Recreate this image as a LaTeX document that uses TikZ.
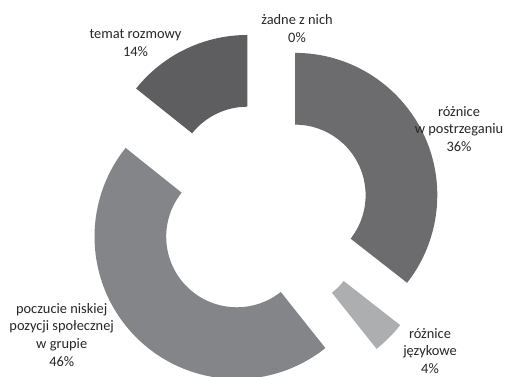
\documentclass[tikz,border=0pt]{standalone}
\usepackage{fontspec}
\setmainfont{Carlito}
\definecolor{cTemat}{HTML}{5E5E60}
\definecolor{cPostrz}{HTML}{6C6C6E}
\definecolor{cPoczucie}{HTML}{848588}
\definecolor{cJezyk}{HTML}{ADAEB0}
\definecolor{cText}{HTML}{262626}
\tikzset{
  lbl/.style={align=center, text=cText, inner sep=0pt,
    font=\fontsize{14.4pt}{17.7pt}\selectfont},
}
\newcommand{\ringseg}[5]{% center, start, end, color
  \begin{scope}[shift={#1}]
    \fill[#4] (#2:142.3) arc[start angle=#2, end angle=#3, radius=142.3]
      -- (#3:70.6) arc[start angle=#3, end angle=#2, radius=70.6] -- cycle;
  \end{scope}}
\begin{document}
\begin{tikzpicture}[x=1pt,y=1pt]
\useasboundingbox (0,0) rectangle (506,376);
\ringseg{(295,180.8)}{90}{-38}{cPostrz}{}
\ringseg{(288,138.5)}{-38}{-51.5}{cJezyk}{}
\ringseg{(236.8,139.3)}{-51.5}{-218.6}{cPoczucie}{}
\ringseg{(247.3,198.7)}{-218.6}{-270}{cTemat}{}
\node[lbl] (zadne) at (297,347.1) {żadne z nich\\0\%};
\node[lbl] (temat) at (135.5,332.7) {temat rozmowy\\14\%};
\node[lbl] (postrz) at (459,247.1) {różnice\\w postrzeganiu\\36\%};
\node[lbl] (jezyk) at (430,25.2) {różnice\\językowe\\4\%};
\node[lbl] (poczucie) at (61.7,41.2) {poczucie niskiej\\pozycji społecznej\\w grupie\\46\%};
\end{tikzpicture}
\end{document}
